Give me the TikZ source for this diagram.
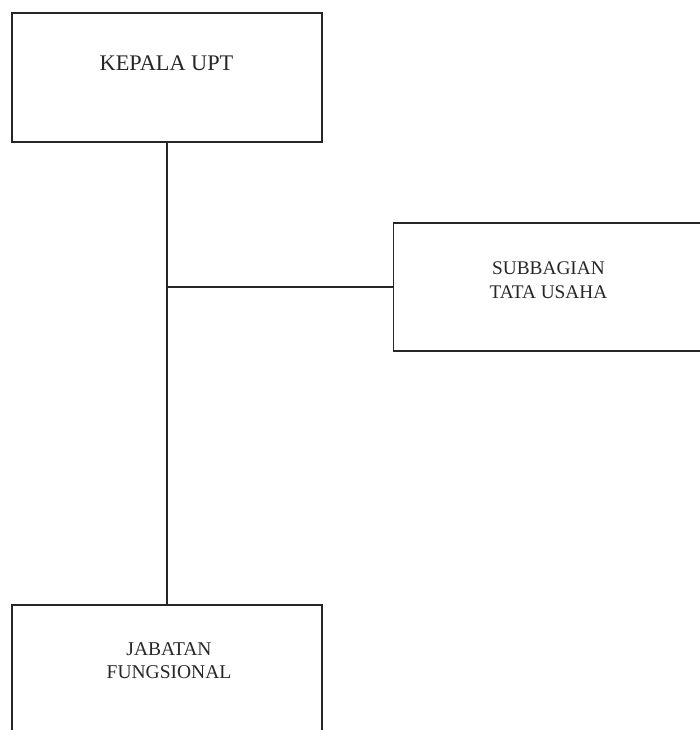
\documentclass[tikz,border=0pt]{standalone}
\usepackage{fontspec}
\setmainfont{Liberation Serif}
\begin{document}
\begin{tikzpicture}[x=1pt,y=1pt,
  box/.style={draw=black!85,line width=1.3pt,minimum width=310pt,minimum height=129pt,inner sep=0pt},
  conn/.style={draw=black!85,line width=1.3pt},
  lbl/.style={align=center,inner sep=0pt,text=black!85}]
\useasboundingbox (0,0) rectangle (700,-730);
\node[box] (kepala) at (167,-77.5) {};
\node[box,minimum width=312pt,minimum height=128pt] (sub) at (549.5,-287) {};
\node[box,minimum height=131pt] (jab) at (167,-670.5) {};
\node[lbl,font=\fontsize{22.3}{26}\selectfont] (tkepala) at (166.5,-63) {KEPALA UPT};
\node[lbl,font=\fontsize{19.3}{24}\selectfont] (tsub) at (548.5,-280) {SUBBAGIAN\\TATA USAHA};
\node[lbl,font=\fontsize{19.5}{23}\selectfont] (tjab) at (169,-661) {JABATAN\\FUNGSIONAL};
\draw[conn] (kepala.south) -- (jab.north);
\draw[conn] (kepala.south |- sub.west) -- (sub.west);
\end{tikzpicture}
\end{document}
